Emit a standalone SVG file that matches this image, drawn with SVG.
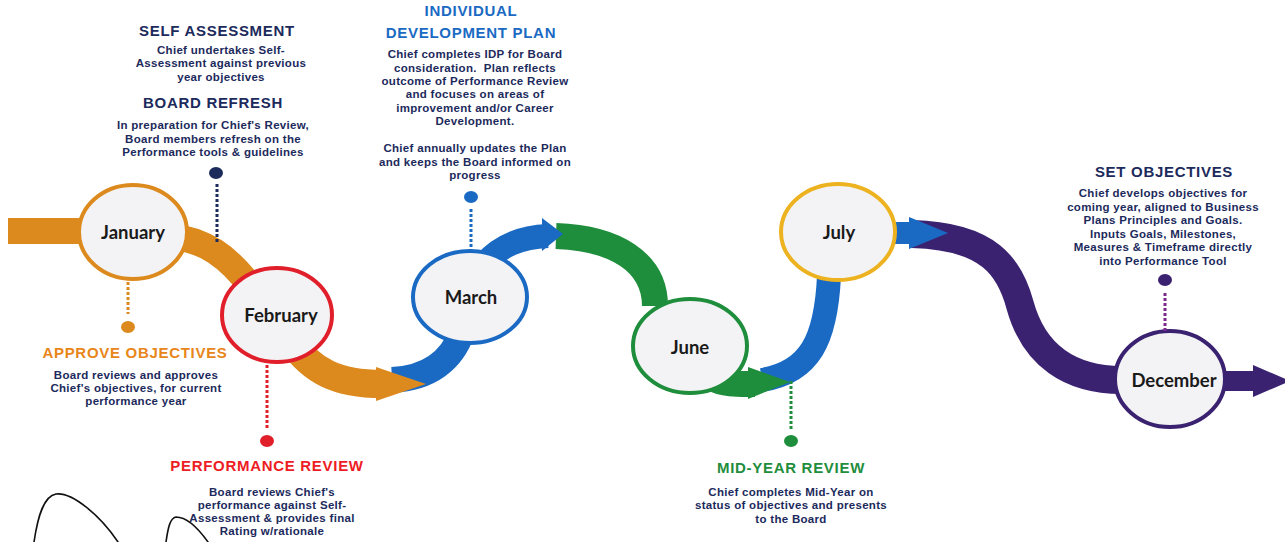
<svg xmlns="http://www.w3.org/2000/svg" width="1285" height="542" viewBox="0 0 1285 542">
  <style>
    .band { fill: none; stroke-linecap: butt; }
    .orange { stroke: #DC8A1E; }
    .blue { stroke: #1A6AC4; }
    .green { stroke: #1F8E3C; }
    .purple { stroke: #3A2270; }
    .month { fill: #F3F3F5; stroke-width: 4; }
    .mlabel { font-family: Lato, "Open Sans", sans-serif; font-weight: 700; font-size: 18.5px; fill: #1A1A1A; text-anchor: middle; }
    .head { font-family: "Liberation Sans", Arial, sans-serif; font-weight: 700; font-size: 15px; letter-spacing: 0.7px; text-anchor: middle; }
    .body { font-family: "Liberation Sans", Arial, sans-serif; font-weight: 700; font-size: 11.5px; letter-spacing: 0.3px; fill: #1C2A5C; text-anchor: middle; }
    .dots { stroke-width: 3; stroke-dasharray: 3 2; fill: none; }
    .navy { fill: #1C2A5C; }
  </style>

  <!-- timeline bands -->
  <g id="connectors">
    <path class="band orange" stroke-width="26" d="M 8 231 L 90 231"/>
    <path class="band orange" stroke-width="26" d="M 170 236 C 205 240 228 256 252 288"/>
    <path class="band orange" stroke-width="28" d="M 290 340 C 312 372 338 384 382 384"/>
    <path class="band blue" stroke-width="26" d="M 392 380 C 430 378 452 360 462 332"/>
    <path class="band blue" stroke-width="24" d="M 484 264 C 500 246 520 237 548 236"/>
    <path class="band green" stroke-width="26" d="M 556 236 C 615 238 655 262 655 306"/>
    <path class="band blue" stroke-width="24" d="M 762 380 C 810 372 826 340 829 276"/>
    <path class="band green" stroke-width="26" d="M 712 378 C 725 385 740 384 755 384"/>
    <path class="band purple" stroke-width="28" d="M 912 234 C 990 236 1010 268 1020 305 C 1034 356 1070 380 1122 380"/>
    <path class="band blue" stroke-width="22" d="M 890 233 L 915 233"/>
    <path class="band purple" stroke-width="20" d="M 1215 381 L 1258 381"/>
    <!-- arrowheads -->
    <polygon fill="#DC8A1E" points="376,367 426,384 376,401"/>
    <polygon fill="#1A6AC4" points="542,218 563,234 542,251"/>
    <polygon fill="#1F8E3C" points="748,367 790,382 748,399"/>
    <polygon fill="#1A6AC4" points="909,217 948,233 909,249"/>
    <polygon fill="#3A2270" points="1253,365 1290,381 1253,397"/>
  </g>

  <!-- month nodes -->
  <g id="january">
    <ellipse class="month" stroke="#DC8A1E" cx="133" cy="232" rx="54" ry="47"/>
    <text class="mlabel" x="133" y="239">January</text>
  </g>
  <g id="february">
    <ellipse class="month" stroke="#E01F2B" cx="277" cy="315" rx="55" ry="47"/>
    <text class="mlabel" x="281" y="322">February</text>
  </g>
  <g id="march">
    <ellipse class="month" stroke="#1A6AC4" cx="470" cy="297" rx="57" ry="46"/>
    <text class="mlabel" x="471" y="304">March</text>
  </g>
  <g id="june">
    <ellipse class="month" stroke="#1F8E3C" cx="690" cy="346" rx="57" ry="47"/>
    <text class="mlabel" x="690" y="354">June</text>
  </g>
  <g id="july">
    <ellipse class="month" stroke="#EDB220" cx="838" cy="232" rx="57" ry="48"/>
    <text class="mlabel" x="839" y="239">July</text>
  </g>
  <g id="december">
    <ellipse class="month" stroke="#3A2270" cx="1170" cy="379" rx="55" ry="48"/>
    <text class="mlabel" x="1174" y="387">December</text>
  </g>

  <!-- milestone callouts -->
  <g id="self-assessment">
    <text class="head navy" x="217" y="36">SELF ASSESSMENT</text>
    <text class="body" x="221" y="54">Chief undertakes Self-</text>
    <text class="body" x="221" y="67">Assessment against previous</text>
    <text class="body" x="221" y="81">year objectives</text>
  </g>
  <g id="board-refresh">
    <text class="head navy" x="213" y="108">BOARD REFRESH</text>
    <text class="body" x="213" y="129">In preparation for Chief's Review,</text>
    <text class="body" x="213" y="143">Board members refresh on the</text>
    <text class="body" x="213" y="156">Performance tools &amp; guidelines</text>
    <ellipse class="navy" cx="216" cy="173" rx="7" ry="6"/>
    <line class="dots" stroke="#1C2A5C" x1="217" y1="184" x2="217" y2="242"/>
  </g>
  <g id="approve-objectives">
    <line class="dots" stroke="#DC8A1E" x1="128" y1="282" x2="128" y2="314"/>
    <ellipse fill="#DC8A1E" cx="128" cy="327" rx="7" ry="6"/>
    <text class="head" fill="#E8861A" x="135" y="358">APPROVE OBJECTIVES</text>
    <text class="body" x="136" y="379">Board reviews and approves</text>
    <text class="body" x="136" y="392">Chief's objectives, for current</text>
    <text class="body" x="136" y="405">performance year</text>
  </g>
  <g id="performance-review">
    <line class="dots" stroke="#E01F2B" x1="267" y1="365" x2="267" y2="430"/>
    <ellipse fill="#E01F2B" cx="267" cy="441" rx="7" ry="6"/>
    <text class="head" fill="#EE1C24" x="267" y="471">PERFORMANCE REVIEW</text>
    <text class="body" x="272" y="496">Board reviews Chief's</text>
    <text class="body" x="272" y="509">performance against Self-</text>
    <text class="body" x="272" y="522">Assessment &amp; provides final</text>
    <text class="body" x="272" y="535">Rating w/rationale</text>
  </g>
  <g id="development-plan">
    <text class="head" fill="#1A6AC4" x="471" y="16">INDIVIDUAL</text>
    <text class="head" fill="#1A6AC4" x="471" y="38">DEVELOPMENT PLAN</text>
    <text class="body" x="475" y="58">Chief completes IDP for Board</text>
    <text class="body" x="475" y="72">consideration.&#160; Plan reflects</text>
    <text class="body" x="475" y="85">outcome of Performance Review</text>
    <text class="body" x="475" y="98">and focuses on areas of</text>
    <text class="body" x="475" y="112">improvement and/or Career</text>
    <text class="body" x="475" y="125">Development.</text>
    <text class="body" x="475" y="152">Chief annually updates the Plan</text>
    <text class="body" x="475" y="166">and keeps the Board informed on</text>
    <text class="body" x="475" y="179">progress</text>
    <ellipse fill="#1A6AC4" cx="471" cy="197" rx="7" ry="6"/>
    <line class="dots" stroke="#1A6AC4" x1="471" y1="209" x2="471" y2="250"/>
  </g>
  <g id="mid-year-review">
    <line class="dots" stroke="#1F8E3C" x1="791" y1="381" x2="791" y2="430"/>
    <ellipse fill="#1F8E3C" cx="791" cy="441" rx="7" ry="6"/>
    <text class="head" fill="#1F8E3C" x="791" y="473">MID-YEAR REVIEW</text>
    <text class="body" x="791" y="496">Chief completes Mid-Year on</text>
    <text class="body" x="791" y="509">status of objectives and presents</text>
    <text class="body" x="791" y="523">to the Board</text>
  </g>
  <g id="set-objectives">
    <text class="head navy" x="1164" y="177">SET OBJECTIVES</text>
    <text class="body" x="1163" y="197">Chief develops objectives for</text>
    <text class="body" x="1163" y="211">coming year, aligned to Business</text>
    <text class="body" x="1163" y="224">Plans Principles and Goals.</text>
    <text class="body" x="1163" y="238">Inputs Goals, Milestones,</text>
    <text class="body" x="1163" y="251">Measures &amp; Timeframe directly</text>
    <text class="body" x="1163" y="265">into Performance Tool</text>
    <ellipse fill="#3A2270" cx="1165" cy="280" rx="7" ry="6"/>
    <line class="dots" stroke="#7B2A8C" x1="1165" y1="293" x2="1165" y2="331"/>
  </g>

  <!-- pen marks at lower left -->
  <g id="pen-marks" fill="none" stroke="#111" stroke-width="1.6" stroke-linecap="round">
    <path d="M 34 542 C 38 515 44 496 56 494 C 72 492 100 515 118 542"/>
    <path d="M 166 542 C 168 528 170 518 176 517 C 186 517 198 528 208 542"/>
  </g>
</svg>
